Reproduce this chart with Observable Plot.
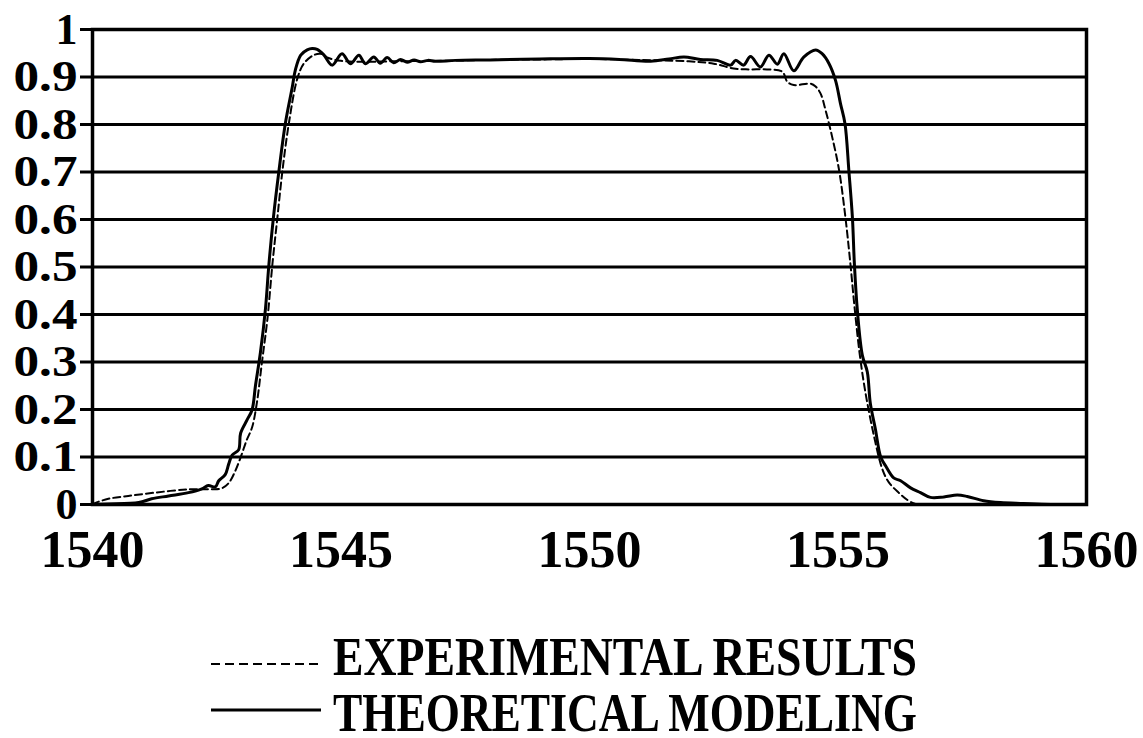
<!DOCTYPE html>
<html>
<head>
<meta charset="utf-8">
<script src="https://cdn.jsdelivr.net/npm/d3@7"></script>
<script src="https://cdn.jsdelivr.net/npm/@observablehq/plot@0.6"></script>
<style>
  html, body { margin: 0; padding: 0; background: #fff; }
  #chart svg { display: block; }
</style>
</head>
<body>
<div id="chart"></div>
<script>
// ---- Data ----
const xTicks = [1540, 1545, 1550, 1555, 1560];
const yTicks = [0, 0.1, 0.2, 0.3, 0.4, 0.5, 0.6, 0.7, 0.8, 0.9, 1];
const seriesNames = ["EXPERIMENTAL RESULTS", "THEORETICAL MODELING"];

// Theoretical modeling (solid)
const theoLambda = [
  1540.0, 1540.32, 1540.93, 1541.19, 1541.53, 1541.93, 1542.2, 1542.33, 1542.47, 1542.54,
  1542.67, 1542.74, 1542.81, 1542.94, 1542.98, 1543.11, 1543.21, 1543.28, 1543.38, 1543.48,
  1543.55, 1543.64, 1543.75, 1543.88, 1544.02, 1544.08, 1544.19, 1544.32, 1544.42, 1544.52,
  1544.65, 1544.82, 1545.02, 1545.19, 1545.36, 1545.49, 1545.66, 1545.79, 1545.93, 1546.06,
  1546.2, 1546.33, 1546.47, 1546.6, 1546.75, 1546.9, 1547.3, 1548.0, 1549.0, 1550.0,
  1550.6, 1551.23, 1551.6, 1551.9, 1552.23, 1552.57, 1552.84, 1552.94, 1553.1, 1553.24,
  1553.44, 1553.61, 1553.78, 1553.91, 1554.11, 1554.31, 1554.55, 1554.68, 1554.82, 1554.95,
  1555.05, 1555.14, 1555.22, 1555.29, 1555.33, 1555.39, 1555.49, 1555.59, 1555.65, 1555.75,
  1555.86, 1555.96, 1556.12, 1556.26, 1556.46, 1556.66, 1556.86, 1557.13, 1557.4, 1557.6,
  1557.93, 1558.27, 1558.73, 1559.28, 1560.0
];
const theoValue = [
  0.0, 0.001, 0.004, 0.012, 0.018, 0.025, 0.033, 0.040, 0.037, 0.050,
  0.063, 0.085, 0.104, 0.115, 0.150, 0.178, 0.199, 0.251, 0.321, 0.412,
  0.506, 0.604, 0.701, 0.802, 0.879, 0.914, 0.946, 0.957, 0.960, 0.958,
  0.947, 0.925, 0.949, 0.928, 0.946, 0.928, 0.942, 0.929, 0.941, 0.930,
  0.937, 0.931, 0.936, 0.932, 0.935, 0.933, 0.935, 0.936, 0.938, 0.939,
  0.937, 0.933, 0.938, 0.942, 0.937, 0.935, 0.925, 0.935, 0.925, 0.943,
  0.921, 0.946, 0.927, 0.949, 0.913, 0.942, 0.957, 0.949, 0.928, 0.893,
  0.844, 0.802, 0.701, 0.604, 0.506, 0.408, 0.314, 0.279, 0.213, 0.160,
  0.100, 0.081, 0.056, 0.050, 0.035, 0.025, 0.015, 0.016, 0.020, 0.017,
  0.008, 0.004, 0.002, 0.0, 0.0
];

// Experimental results (dashed)
const expLambda = [
  1540.0, 1540.05, 1540.32, 1540.72, 1541.26, 1541.93, 1542.4, 1542.6, 1542.74, 1542.87,
  1543.0, 1543.1, 1543.21, 1543.31, 1543.41, 1543.52, 1543.62, 1543.72, 1543.82, 1543.95,
  1544.12, 1544.25, 1544.45, 1544.59, 1544.75, 1545.0, 1545.5, 1546.0, 1547.0, 1548.0,
  1549.0, 1550.0, 1551.0, 1552.0, 1552.5, 1552.9, 1553.2, 1553.57, 1553.88, 1553.98,
  1554.11, 1554.45, 1554.55, 1554.65, 1554.75, 1554.88, 1555.02, 1555.15, 1555.25, 1555.34,
  1555.44, 1555.55, 1555.72, 1555.89, 1556.02, 1556.22, 1556.39, 1556.53, 1556.62
];
const expValue = [
  0.0, 0.003, 0.012, 0.018, 0.025, 0.032, 0.032, 0.034, 0.045, 0.070,
  0.105, 0.135, 0.162, 0.216, 0.300, 0.391, 0.506, 0.604, 0.701, 0.802,
  0.896, 0.928, 0.946, 0.949, 0.940, 0.934, 0.932, 0.933, 0.934, 0.936,
  0.937, 0.938, 0.936, 0.933, 0.928, 0.918, 0.916, 0.916, 0.911, 0.890,
  0.883, 0.886, 0.880, 0.865, 0.830, 0.775, 0.705, 0.604, 0.506, 0.408,
  0.314, 0.237, 0.146, 0.075, 0.047, 0.025, 0.010, 0.002, 0.0
];

// ---- Build tables ----
const theo = theoLambda.map((l, i) => ({l, v: theoValue[i]}));
const exp = expLambda.map((l, i) => ({l, v: expValue[i]}));

const W = 1143, H = 600;
const fontFam = "'Liberation Serif', 'Times New Roman', serif";

const chart = Plot.plot({
  width: W,
  height: H,
  marginLeft: 92,
  marginRight: 57,
  marginTop: 29,
  marginBottom: 96,
  style: {fontFamily: fontFam, color: "#000", background: "#fff", overflow: "visible"},
  x: {domain: [1540, 1560]},
  y: {domain: [0, 1]},
  marks: [
    Plot.ruleY(yTicks.slice(1, -1), {stroke: "#000", strokeWidth: 3}),
    Plot.line(exp, {x: "l", y: "v", stroke: "#000", strokeWidth: 2, strokeDasharray: "7,4", curve: "catmull-rom"}),
    Plot.line(theo, {x: "l", y: "v", stroke: "#000", strokeWidth: 3, curve: "catmull-rom"}),
    Plot.frame({stroke: "#000", strokeWidth: 3.5}),
    Plot.axisY({ticks: yTicks, tickSize: 12, tickPadding: 3, strokeWidth: 3, tickFormat: d => String(d),
      fontSize: 44, fontWeight: "bold", label: null}),
    Plot.axisX({ticks: xTicks, tickSize: 0, tickPadding: 26, tickFormat: d => String(d),
      fontSize: 52, fontWeight: "bold", label: null})
  ]
});
document.getElementById("chart").appendChild(chart);

// widen the decimal y tick labels a little, as in the reference
d3.select(chart).selectAll('g[aria-label="y-axis tick label"] text').each(function() {
  if (this.textContent.length === 3) {
    d3.select(this).attr("textLength", 64).attr("lengthAdjust", "spacingAndGlyphs");
  }
});

// ---- Legend (below the plot SVG) ----
const legend = d3.select("#chart").append("svg")
  .attr("width", W).attr("height", 738 - H)
  .style("display", "block")
  .style("font-family", fontFam);

const rows = [
  {name: seriesNames[0], dash: "9,5", sw: 2, lineY: 64, baseY: 75},
  {name: seriesNames[1], dash: null, sw: 3, lineY: 110, baseY: 131}
];
rows.forEach(r => {
  legend.append("line")
    .attr("x1", 211).attr("x2", 321)
    .attr("y1", r.lineY).attr("y2", r.lineY)
    .attr("stroke", "#000").attr("stroke-width", r.sw)
    .attr("stroke-dasharray", r.dash);
  legend.append("text")
    .attr("x", 333).attr("y", r.baseY)
    .attr("font-size", 54).attr("font-weight", "bold")
    .attr("textLength", 584).attr("lengthAdjust", "spacingAndGlyphs")
    .text(r.name);
});
</script>
</body>
</html>
